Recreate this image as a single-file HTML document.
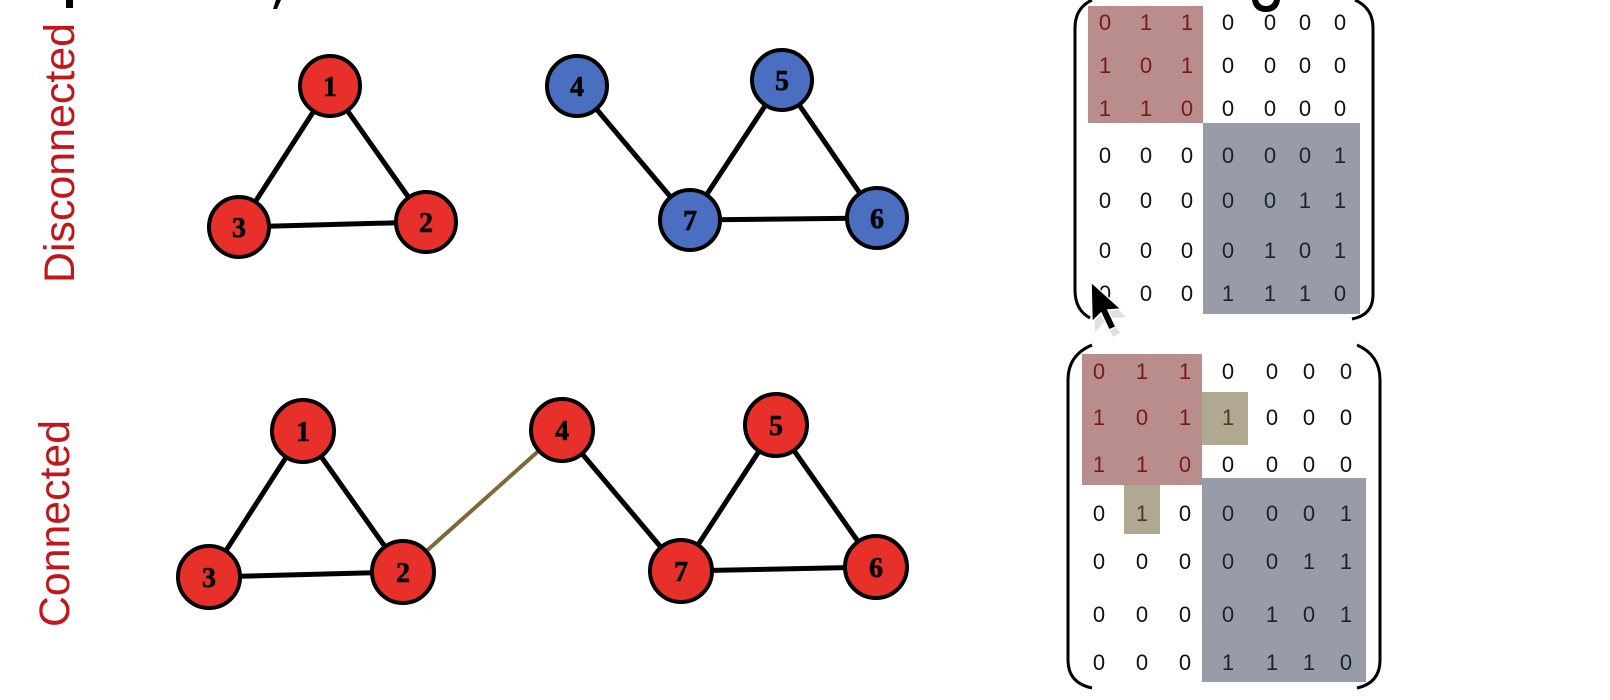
<!DOCTYPE html>
<html><head><meta charset="utf-8"><style>
html,body{margin:0;padding:0;background:#fff;}
svg{display:block;}
</style></head><body>
<svg width="1610" height="700" viewBox="0 0 1610 700" xmlns="http://www.w3.org/2000/svg">
<rect x="66" y="0" width="7" height="8" fill="#000"/>
<path d="M276 0 L281 0 L277 9 L273 9 Z" fill="#000"/>
<path d="M1252 0 Q1254 12 1266 12 Q1278 12 1280 0 L1274 0 Q1272 6 1266 6 Q1260 6 1258 0 Z" fill="#000"/>

<text transform="translate(74,283) rotate(-90)" font-family="Liberation Sans, sans-serif" font-size="43" fill="#c0171b" textLength="260" lengthAdjust="spacingAndGlyphs">Disconnected</text>
<text transform="translate(69,627) rotate(-90)" font-family="Liberation Sans, sans-serif" font-size="43" fill="#c0171b" textLength="207" lengthAdjust="spacingAndGlyphs">Connected</text>

<g stroke="#000" stroke-width="5" fill="none">
<line x1="330" y1="86" x2="239" y2="227"/>
<line x1="330" y1="86" x2="426" y2="222"/>
<line x1="239" y1="227" x2="426" y2="222"/>
<line x1="577" y1="86" x2="690" y2="220"/>
<line x1="782" y1="80" x2="690" y2="220"/>
<line x1="782" y1="80" x2="877" y2="218"/>
<line x1="690" y1="220" x2="877" y2="218"/>
<line x1="303" y1="431" x2="209" y2="577"/>
<line x1="303" y1="431" x2="403" y2="572"/>
<line x1="209" y1="577" x2="403" y2="572"/>
<line x1="562" y1="430" x2="681" y2="571"/>
<line x1="776" y1="425" x2="681" y2="571"/>
<line x1="776" y1="425" x2="876" y2="567"/>
<line x1="681" y1="571" x2="876" y2="567"/>
</g>
<line x1="403" y1="572" x2="562" y2="430" stroke="#7d6a35" stroke-width="4"/>

<g stroke="#000" stroke-width="4">
<circle cx="330" cy="86" r="30" fill="#e8302a"/>
<circle cx="239" cy="227" r="30" fill="#e8302a"/>
<circle cx="426" cy="222" r="30" fill="#e8302a"/>
<circle cx="577" cy="86" r="30" fill="#4a6fc0"/>
<circle cx="782" cy="80" r="30" fill="#4a6fc0"/>
<circle cx="690" cy="220" r="30" fill="#4a6fc0"/>
<circle cx="877" cy="218" r="30" fill="#4a6fc0"/>
<circle cx="303" cy="431" r="31" fill="#e8302a"/>
<circle cx="209" cy="577" r="31" fill="#e8302a"/>
<circle cx="403" cy="572" r="31" fill="#e8302a"/>
<circle cx="562" cy="430" r="31" fill="#e8302a"/>
<circle cx="776" cy="425" r="31" fill="#e8302a"/>
<circle cx="681" cy="571" r="31" fill="#e8302a"/>
<circle cx="876" cy="567" r="31" fill="#e8302a"/>
</g>
<g font-family="Liberation Serif, serif" font-weight="bold" font-size="28" text-anchor="middle" fill="#000" stroke="#000" stroke-width="0.6">
<text x="330" y="96">1</text><text x="239" y="237">3</text><text x="426" y="232">2</text>
<text x="577" y="96">4</text><text x="782" y="90">5</text><text x="690" y="230">7</text><text x="877" y="228">6</text>
<text x="303" y="441">1</text><text x="209" y="587">3</text><text x="403" y="582">2</text>
<text x="562" y="440">4</text><text x="776" y="435">5</text><text x="681" y="581">7</text><text x="876" y="577">6</text>
</g>

<rect x="1088" y="6" width="115" height="117" fill="#b98d8b"/>
<rect x="1203" y="123" width="157" height="191" fill="#979ca8"/>
<path d="M1092 0 Q1075 8 1075 28 L1075 290 Q1075 310 1090 318" stroke="#000" stroke-width="3" fill="none"/>
<path d="M1355 0 Q1373 8 1373 28 L1373 295 Q1373 315 1352 319" stroke="#000" stroke-width="3" fill="none"/>
<g font-family="Liberation Sans, sans-serif" font-size="22" text-anchor="middle">
<g fill="#7a1a1a">
<text x="1105" y="30">0</text><text x="1146" y="30">1</text><text x="1187" y="30">1</text>
<text x="1105" y="73">1</text><text x="1146" y="73">0</text><text x="1187" y="73">1</text>
<text x="1105" y="116">1</text><text x="1146" y="116">1</text><text x="1187" y="116">0</text>
</g>
<g fill="#111">
<text x="1228" y="30">0</text><text x="1270" y="30">0</text><text x="1305" y="30">0</text><text x="1340" y="30">0</text>
<text x="1228" y="73">0</text><text x="1270" y="73">0</text><text x="1305" y="73">0</text><text x="1340" y="73">0</text>
<text x="1228" y="116">0</text><text x="1270" y="116">0</text><text x="1305" y="116">0</text><text x="1340" y="116">0</text>
<text x="1105" y="163">0</text><text x="1146" y="163">0</text><text x="1187" y="163">0</text>
<text x="1105" y="208">0</text><text x="1146" y="208">0</text><text x="1187" y="208">0</text>
<text x="1105" y="258">0</text><text x="1146" y="258">0</text><text x="1187" y="258">0</text>
<text x="1105" y="301">0</text><text x="1146" y="301">0</text><text x="1187" y="301">0</text>
</g>
<g fill="#1a2233">
<text x="1228" y="163">0</text><text x="1270" y="163">0</text><text x="1305" y="163">0</text><text x="1340" y="163">1</text>
<text x="1228" y="208">0</text><text x="1270" y="208">0</text><text x="1305" y="208">1</text><text x="1340" y="208">1</text>
<text x="1228" y="258">0</text><text x="1270" y="258">1</text><text x="1305" y="258">0</text><text x="1340" y="258">1</text>
<text x="1228" y="301">1</text><text x="1270" y="301">1</text><text x="1305" y="301">1</text><text x="1340" y="301">0</text>
</g>
</g>

<rect x="1082" y="354" width="120" height="131" fill="#b98d8b"/>
<rect x="1202" y="392" width="46" height="53" fill="#b0a890"/>
<rect x="1124" y="485" width="36" height="49" fill="#b0a890"/>
<rect x="1202" y="478" width="164" height="204" fill="#979ca8"/>
<path d="M1092 345 Q1068 355 1068 380 L1068 660 Q1068 683 1092 688" stroke="#000" stroke-width="3" fill="none"/>
<path d="M1357 345 Q1380 355 1380 380 L1380 660 Q1380 683 1357 688" stroke="#000" stroke-width="3" fill="none"/>
<g font-family="Liberation Sans, sans-serif" font-size="22" text-anchor="middle">
<g fill="#7a1a1a">
<text x="1099" y="379">0</text><text x="1142" y="379">1</text><text x="1185" y="379">1</text>
<text x="1099" y="425">1</text><text x="1142" y="425">0</text><text x="1185" y="425">1</text>
<text x="1099" y="472">1</text><text x="1142" y="472">1</text><text x="1185" y="472">0</text>
</g>
<g fill="#4a4020"><text x="1228" y="425">1</text><text x="1142" y="521">1</text></g>
<g fill="#111">
<text x="1228" y="379">0</text><text x="1272" y="379">0</text><text x="1309" y="379">0</text><text x="1346" y="379">0</text>
<text x="1272" y="425">0</text><text x="1309" y="425">0</text><text x="1346" y="425">0</text>
<text x="1228" y="472">0</text><text x="1272" y="472">0</text><text x="1309" y="472">0</text><text x="1346" y="472">0</text>
<text x="1099" y="521">0</text><text x="1185" y="521">0</text>
<text x="1099" y="569">0</text><text x="1142" y="569">0</text><text x="1185" y="569">0</text>
<text x="1099" y="622">0</text><text x="1142" y="622">0</text><text x="1185" y="622">0</text>
<text x="1099" y="670">0</text><text x="1142" y="670">0</text><text x="1185" y="670">0</text>
</g>
<g fill="#1a2233">
<text x="1228" y="521">0</text><text x="1272" y="521">0</text><text x="1309" y="521">0</text><text x="1346" y="521">1</text>
<text x="1228" y="569">0</text><text x="1272" y="569">0</text><text x="1309" y="569">1</text><text x="1346" y="569">1</text>
<text x="1228" y="622">0</text><text x="1272" y="622">1</text><text x="1309" y="622">0</text><text x="1346" y="622">1</text>
<text x="1228" y="670">1</text><text x="1272" y="670">1</text><text x="1309" y="670">1</text><text x="1346" y="670">0</text>
</g>
</g>

<path d="M1094 287 L1095 332 L1105 321 L1113 337 L1120 333 L1112 318 L1126 317 Z" fill="#ccc" opacity="0.6"/>
<path d="M1091 282 L1092 322 L1101 313 L1109 330 L1116 327 L1108 310 L1121 309 Z" fill="#000" stroke="#fff" stroke-width="1.5"/>
</svg>
</body></html>
